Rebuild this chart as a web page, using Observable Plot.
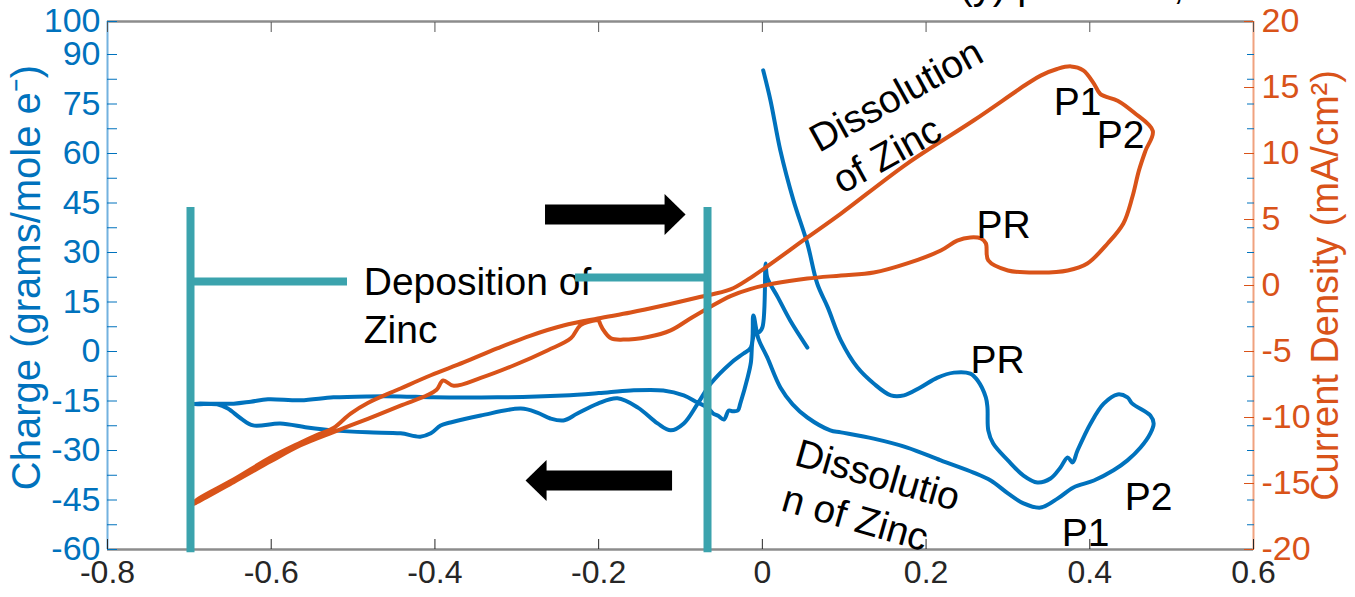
<!DOCTYPE html>
<html><head><meta charset="utf-8">
<script src="https://cdn.jsdelivr.net/npm/d3@7"></script>
<script src="https://cdn.jsdelivr.net/npm/@observablehq/plot@0.6"></script>
<style>body{margin:0;background:#fff;} #chart svg{display:block;}</style>
</head><body><div id="chart"></div>
<script>
// ---- Data ----
const xTicks = [-0.8, -0.6, -0.4, -0.2, 0, 0.2, 0.4, 0.6];
const chargeTicks = [100, 90, 82.5, 75, 67.5, 60, 52.5, 45, 37.5, 30, 22.5, 15, 7.5, 0, -7.5, -15, -22.5, -30, -37.5, -45, -52.5, -60];
const chargeLabels = [100, 90, 75, 60, 45, 30, 15, 0, -15, -30, -45, -60];
const currentTicks = [-20, -15, -10, -5, 0, 5, 10, 15, 20];

// Charge (grams/mole e-) vs potential, blue
const blueV = [0.055,0.034,0.019,0.006,0.004,0.0,-0.005,-0.008,-0.012,-0.014,-0.018,-0.027,-0.03,-0.036,-0.041,-0.047,-0.054,-0.06,-0.067,-0.079,-0.096,-0.121,-0.161,-0.2,-0.243,-0.324,-0.402,-0.442,-0.482,-0.524,-0.564,-0.604,-0.625,-0.646,-0.69,-0.697,
 -0.69,-0.666,-0.653,-0.637,-0.622,-0.589,-0.556,-0.524,-0.482,-0.442,-0.418,-0.405,-0.393,-0.381,-0.344,-0.295,-0.275,-0.259,-0.243,-0.226,-0.201,-0.177,-0.152,-0.128,-0.112,-0.096,-0.079,-0.063,-0.039,-0.023,-0.014,-0.011,-0.005,0.006,0.022,0.037,0.055,0.083,0.096,0.136,0.177,0.218,0.258,0.279,0.3,0.319,0.34,0.361,0.38,0.405,0.429,0.446,0.462,0.474,0.478,0.474,0.452,0.446,0.434,0.417,0.401,0.385,0.379,0.373,0.364,0.352,0.336,0.319,0.3,0.282,0.276,0.275,0.273,0.263,0.254,0.234,0.214,0.193,0.173,0.157,0.136,0.116,0.096,0.08,0.067,0.055,0.038,0.022,0.01,0.001];
const blueQ = [1.2,9.4,16.4,22.4,26.7,7.3,5.8,6.4,3.3,-3.3,-7.9,-15.8,-17.9,-18.1,-17.9,-20.6,-19.5,-18.8,-17,-15.5,-13.3,-11.8,-11.8,-12.6,-13.3,-13.9,-13.9,-13.6,-13.6,-13.9,-14.8,-14.5,-15.2,-15.8,-15.8,-15.9,
 -16.0,-16.0,-17.3,-20.3,-22.4,-21.8,-23.0,-23.9,-24.5,-24.8,-25.8,-24.8,-22.4,-21.5,-19.4,-17.3,-18.5,-20.3,-20.9,-18.8,-15.8,-14.2,-17,-21.8,-23.9,-21.8,-15.8,-9.7,-3.6,-0.6,1.2,10.9,4,-1.8,-10.9,-16,-20,-23.9,-24.5,-26.4,-29.1,-33,-36.7,-39.1,-43,-46,-47.3,-44.5,-41.2,-39.1,-36,-33,-29.1,-24.8,-21.8,-19.4,-15.8,-13.9,-13,-15.8,-21.8,-30,-33.6,-32.1,-35.2,-38.5,-39.7,-37.6,-33,-27.9,-23.9,-17,-13.9,-8.8,-6.7,-6.4,-7.9,-10.9,-13.3,-13.3,-9.7,-4.8,3.3,13.3,20.6,32.7,45.8,60.9,76,85.2];

// Current density (mA/cm2) vs potential, orange
const orangeV = [-0.2,-0.222,-0.234,-0.262,-0.304,-0.344,-0.377,-0.39,-0.398,-0.409,-0.442,-0.482,-0.524,-0.564,-0.6,-0.646,-0.69,-0.697,
 -0.69,-0.646,-0.6,-0.564,-0.543,-0.524,-0.503,-0.482,-0.442,-0.405,-0.365,-0.324,-0.283,-0.243,-0.201,-0.161,-0.121,-0.079,-0.039,-0.014,0.055,0.096,0.177,0.258,0.324,0.34,0.36,0.377,0.392,0.405,0.413,0.434,0.454,0.477,0.468,0.46,0.452,0.441,0.422,0.397,0.373,0.34,0.3,0.276,0.273,0.267,0.254,0.238,0.218,0.177,0.136,0.096,0.055,0.014,-0.014,-0.039,-0.067,-0.088,-0.112,-0.14,-0.17,-0.185,-0.195,-0.2];
const orangeJ = [-2.6,-3.0,-4.0,-4.9,-6.06,-7.0,-7.6,-7.2,-7.9,-8.3,-9.1,-10.1,-11.1,-12.1,-13.3,-14.9,-16.4,-16.6,
 -16.2,-14.7,-13.0,-11.9,-11.3,-10.8,-9.7,-8.9,-7.8,-6.8,-5.83,-4.77,-3.79,-3.03,-2.5,-2.05,-1.52,-0.91,-0.3,0.6,3.64,5.45,9.24,12.5,15.3,15.9,16.4,16.6,16.3,15.3,14.5,14.0,13.1,11.7,10.2,8.7,6.7,4.7,3.2,1.67,1.14,0.98,1.14,1.9,3.2,3.56,3.64,3.4,2.65,1.67,0.98,0.76,0.53,0.15,-0.25,-0.8,-1.74,-2.5,-3.4,-3.9,-4.1,-4.0,-3.3,-2.6];

// Annotations (data units: potential, charge axis)
const labelsStart = [
  {text: "Deposition of\nZinc", x: -0.487, y: 14.4, rotate: 0},
  {text: "Dissolution\nof Zinc", x: 0.0742, y: 57.9, rotate: -29},
  {text: "Dissolutio\nn of Zinc", x: 0.0345, y: -36.7, rotate: 16}
];
const labelsMid = [
  {text: "PR", x: 0.2947, y: 38.2}, {text: "P1", x: 0.3851, y: 75.5}, {text: "P2", x: 0.4376, y: 65.5},
  {text: "PR", x: 0.2874, y: -2.7}, {text: "P1", x: 0.3949, y: -55.2}, {text: "P2", x: 0.4718, y: -44.2}
];
const bracketVertical = [{x: -0.6986, y1: 43.6, y2: -61}, {x: -0.067, y1: 43.6, y2: -61}];
const bracketHorizontal = [{x1: -0.6986, x2: -0.5068, y: 21.2}, {x1: -0.2282, x2: -0.067, y: 22.4}];
const arrows = [{from: -0.2649, to: -0.0938, y: 41.5}, {from: -0.1097, to: -0.2893, y: -39.1}];
const titleFragment = [{text: "(y) per mole,", x: 0.2409, y: 100}];

// ---- Chart ----
const BLUE = "#0072BD", ORANGE = "#D95319", TEAL = "#3BA3AD";
const toLeft = j => -60 + (j + 20) * 4;
const fromLeft = y => (y + 60) / 4 - 20;
const blue = blueV.map((v, i) => ({v, q: blueQ[i]}));
const orange = orangeV.map((v, i) => ({v, j: orangeJ[i]}));
const fmt = d => String(+(+d).toFixed(1));
const headSymbol = {draw(ctx) { ctx.moveTo(0, 0); ctx.lineTo(-21, -20.5); ctx.lineTo(-21, 20.5); ctx.closePath(); }};
const FONT = "'Liberation Sans', Arial, Helvetica, sans-serif";

const chart = Plot.plot({
  width: 1355, height: 597,
  marginLeft: 107, marginRight: 102, marginTop: 21, marginBottom: 48,
  x: {domain: [-0.8, 0.6]},
  y: {domain: [-60, 100]},
  style: {fontFamily: FONT, background: "white"},
  marks: [
    Plot.ruleY([-60, 100], {stroke: "#8c8c8c", strokeWidth: 2.5}),
    Plot.ruleX([-0.8], {stroke: "#73b2df", strokeWidth: 2}),
    Plot.ruleX([0.6], {stroke: "#f0a27f", strokeWidth: 2}),
    Plot.axisX({ticks: xTicks, tickSize: -10, tickPadding: 21, tickFormat: fmt, color: "#262626", fontSize: 32, label: null}),
    Plot.axisX({anchor: "top", ticks: xTicks, tickSize: -10, tickFormat: () => "", color: "#555", label: null}),
    Plot.axisY({ticks: chargeTicks, tickSize: -10, tickPadding: 17, tickFormat: d => chargeLabels.includes(d) ? String(d) : "", color: BLUE, fontSize: 34, label: null}),
    Plot.axisY({anchor: "right", ticks: chargeTicks, tickSize: -7, tickFormat: () => "", color: BLUE, label: null}),
    Plot.axisY({anchor: "right", ticks: currentTicks.map(toLeft), tickSize: -10, tickPadding: 18, tickFormat: d => String(Math.round(fromLeft(d))), color: ORANGE, fontSize: 34, label: null}),
    Plot.text(["Charge (grams/mole e⁻)"], {frameAnchor: "left", dx: -80, dy: -8, rotate: -90, textAnchor: "middle", fill: BLUE, fontSize: 40}),
    Plot.text(["Current Density (mA/cm²)"], {frameAnchor: "right", dx: 72, rotate: -90, textAnchor: "middle", fill: ORANGE, fontSize: 38}),
    Plot.text(titleFragment, {x: "x", y: "y", text: "text", dy: -35, textAnchor: "start", lineAnchor: "middle", fontSize: 40, fill: "black"}),
    Plot.line(blue, {x: "v", y: "q", stroke: BLUE, strokeWidth: 4, curve: "catmull-rom", strokeLinejoin: "round"}),
    Plot.line(orange, {x: "v", y: d => toLeft(d.j), stroke: ORANGE, strokeWidth: 4, curve: "catmull-rom", strokeLinejoin: "round"}),
    Plot.text(labelsStart, {x: "x", y: "y", text: "text", rotate: "rotate", textAnchor: "start", lineAnchor: "middle", lineHeight: 1.22, fontSize: 39, fill: "black"}),
    Plot.text(labelsMid, {x: "x", y: "y", text: "text", textAnchor: "middle", lineAnchor: "middle", fontSize: 39, fill: "black"}),
    Plot.ruleX(bracketVertical, {x: "x", y1: "y1", y2: "y2", stroke: TEAL, strokeWidth: 8}),
    Plot.ruleY(bracketHorizontal, {x1: "x1", x2: "x2", y: "y", stroke: TEAL, strokeWidth: 8}),
    Plot.ruleY(arrows.filter(a => a.to > a.from), {x1: "from", x2: "to", y: "y", stroke: "black", strokeWidth: 20, insetRight: 20}),
    Plot.ruleY(arrows.filter(a => a.to < a.from), {x1: "to", x2: "from", y: "y", stroke: "black", strokeWidth: 20, insetLeft: 20}),
    Plot.dot(arrows, {x: "to", y: "y", symbol: headSymbol, fill: "black", stroke: null, rotate: a => a.to > a.from ? 0 : 180, r: 10})
  ]
});
document.getElementById("chart").append(chart);
</script></body></html>
